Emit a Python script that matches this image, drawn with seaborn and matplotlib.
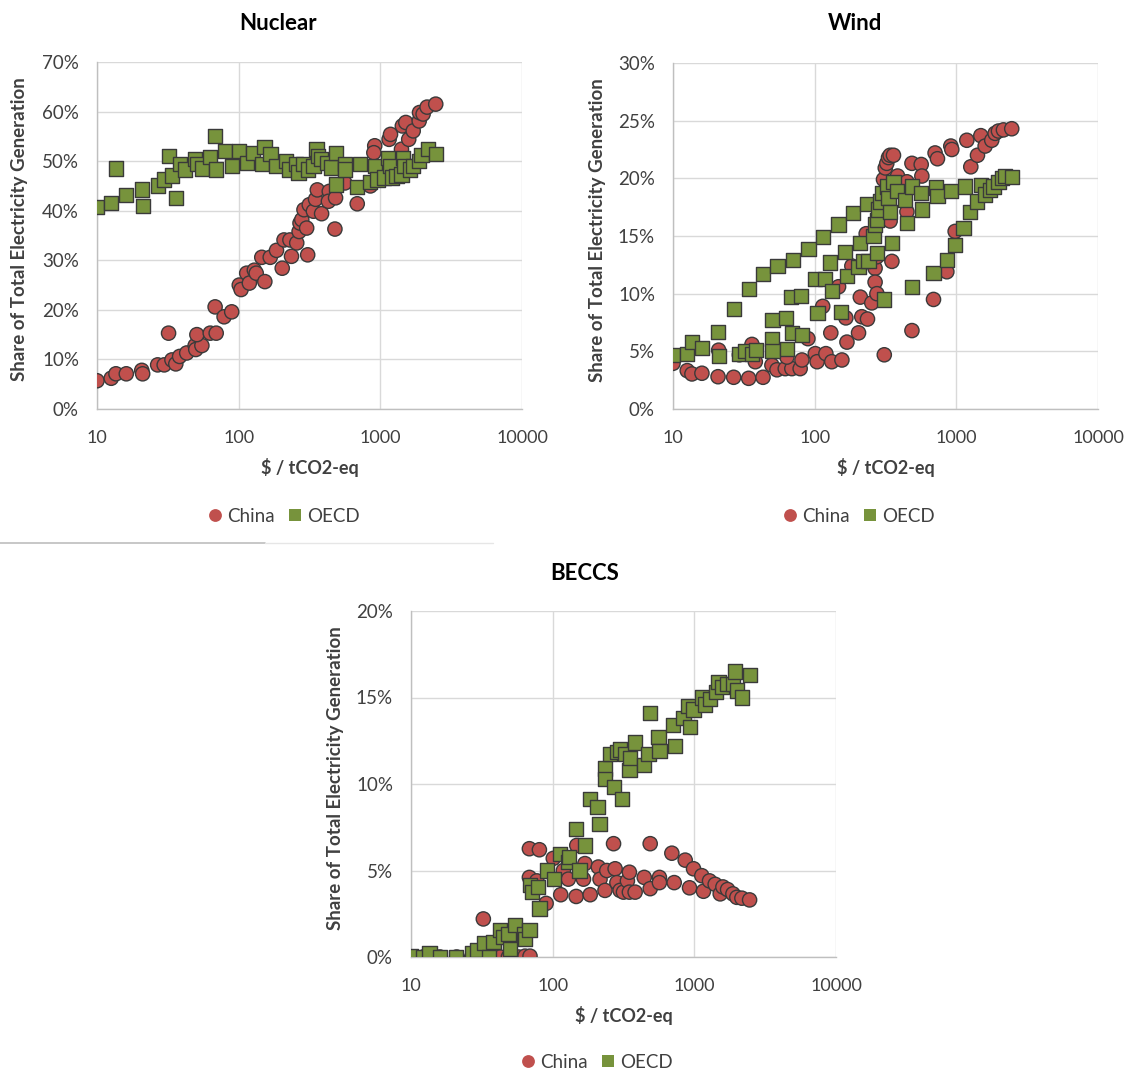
import pandas as pd
import seaborn as sns
import matplotlib.pyplot as plt
from matplotlib.lines import Line2D
from matplotlib.ticker import FixedLocator, FuncFormatter

# ---- data ----
nuclear_china_x = [10, 12.6, 13.6, 16.1, 20.7, 21, 26.8, 29.8, 33.8, 36, 38.3, 43, 49.3, 49.8, 55, 50.7,
                   32, 63, 69.4, 68.2, 78.9, 89.3, 101, 104, 114, 119, 129, 133, 153, 145.6, 167, 185,
                   203, 209, 230, 236, 257, 267, 271, 279, 289, 302, 307, 315, 337, 349, 359, 385, 436,
                   430, 483, 478, 562, 687, 851, 913, 900, 1153, 1180, 1410, 1430, 1513, 1586, 1706,
                   1880, 1890, 2004, 2138, 2461]
nuclear_china_y = [5.7, 6.2, 7.1, 7.1, 7.8, 7.1, 8.9, 8.9, 9.9, 9.1, 10.6, 11.3, 12.8, 12.0, 12.8, 15.0,
                   15.3, 15.3, 15.3, 20.6, 18.6, 19.6, 25.0, 24.1, 27.4, 25.4, 28.0, 27.4, 25.7, 30.6,
                   30.6, 32.0, 28.4, 34.1, 34.1, 30.8, 33.5, 35.8, 37.5, 38.2, 40.2, 36.5, 31.1, 41.2,
                   39.9, 42.3, 44.2, 39.4, 43.9, 41.9, 42.6, 36.3, 45.6, 41.4, 45.0, 53.1, 51.7, 54.4,
                   55.4, 52.4, 57.1, 57.8, 54.4, 56.1, 58.1, 59.8, 59.5, 60.9, 61.5]
nuclear_oecd_x = [10, 12.6, 13.7, 16.1, 20.7, 21, 26.8, 29.8, 32.3, 33.8, 36, 38.3, 41.9, 49.3, 50.7, 55,
                  63, 68.2, 69.4, 80.2, 89.3, 101, 114, 127, 145.6, 152, 168, 185, 216, 228, 254, 264,
                  283, 310, 337, 355, 361, 379, 418, 446, 486, 486, 562, 562, 687, 718, 844, 913, 955,
                  1059, 1136, 1170, 1203, 1300, 1410, 1440, 1470, 1615, 1706, 1880, 1950, 2173, 2461]
nuclear_oecd_y = [40.8, 41.6, 48.5, 43.1, 44.3, 41.0, 45.1, 46.3, 51.0, 47.1, 42.5, 49.4, 48.3, 50.4,
                  49.4, 48.5, 50.8, 55.1, 48.3, 52.1, 49.0, 52.1, 49.7, 51.7, 49.4, 52.9, 51.4, 49.0,
                  50.0, 48.3, 49.4, 47.7, 49.4, 48.3, 49.0, 52.4, 51.0, 50.4, 49.7, 48.7, 51.6, 45.3,
                  49.4, 48.3, 44.8, 49.4, 45.8, 49.0, 46.3, 46.7, 50.7, 49.0, 46.7, 47.0, 47.3, 50.7,
                  49.0, 48.3, 49.0, 50.0, 51.2, 52.5, 51.5]

wind_china_x = [10, 12.6, 13.6, 16, 20.8, 21, 26.8, 29.4, 34.2, 36.1, 38.1, 43.2, 49.9, 54.2, 62, 69, 79,
                63.7, 81.3, 89.6, 101, 104, 114, 120, 130, 132, 147.5, 155.7, 166, 169, 183, 204, 210,
                215, 236, 231, 253, 267, 267, 275, 275, 310, 306, 315, 323, 332, 341, 360, 341, 351,
                385, 448, 448, 486, 486, 565, 571, 690, 708, 736, 857, 914, 929, 981, 1186, 1265, 1410,
                1489, 1597, 1778, 1878, 1983, 2150, 2461]
wind_china_y = [3.96, 3.33, 3.04, 3.1, 2.8, 5.1, 2.75, 4.7, 2.66, 5.6, 4.1, 2.75, 3.8, 3.4, 3.5, 3.5, 3.5,
                4.5, 4.25, 6.1, 4.8, 4.1, 8.9, 4.8, 6.6, 4.1, 10.6, 4.25, 7.9, 5.8, 12.4, 6.6, 9.7, 8.0,
                7.8, 15.2, 9.2, 12.2, 11.0, 10.0, 13.2, 4.7, 19.9, 20.9, 21.3, 21.8, 22.0, 22.0, 16.3,
                12.8, 20.2, 19.7, 17.1, 21.3, 6.8, 21.2, 20.2, 9.5, 22.2, 21.7, 11.9, 22.8, 22.5, 15.4,
                23.3, 21.0, 22.0, 23.7, 22.8, 23.3, 23.9, 24.1, 24.2, 24.3]
wind_oecd_x = [10, 12.6, 13.6, 16, 20.8, 21, 26.8, 29.4, 32.4, 34.2, 36.1, 38.7, 43.2, 49.9, 50.3, 50.3,
               54.7, 63, 63.7, 68.4, 70.2, 69, 80, 81.3, 90.6, 101, 104.6, 114, 119, 129, 132, 147.5,
               154, 164, 169, 186, 204, 210, 219, 236, 240, 260, 267, 275, 275, 282, 290, 298, 310,
               323, 332, 341, 351, 360, 380, 436, 448, 486, 486, 565, 571, 690, 721, 736, 857, 914,
               981, 1122, 1153, 1251, 1393, 1489, 1597, 1729, 1827, 1983, 2093, 2208, 2461]
wind_oecd_y = [4.7, 4.8, 5.8, 5.3, 6.7, 4.6, 8.7, 4.8, 5.0, 10.4, 4.8, 5.1, 11.7, 6.1, 7.7, 5.0, 12.4,
               7.9, 5.2, 9.7, 12.9, 6.6, 9.8, 6.4, 13.9, 11.3, 8.3, 14.9, 11.3, 12.7, 10.2, 16.0, 8.4,
               13.6, 11.5, 17.0, 12.3, 14.4, 12.8, 17.8, 12.8, 15.0, 16.0, 16.4, 13.5, 17.3, 18.0,
               18.7, 9.5, 19.3, 18.3, 17.1, 14.4, 19.7, 18.9, 18.1, 16.1, 19.3, 10.6, 18.7, 17.3, 11.8,
               19.2, 18.5, 12.9, 18.9, 14.2, 15.7, 19.3, 17.1, 18.0, 19.4, 18.6, 19.0, 19.3, 19.7,
               20.0, 20.2, 20.1]

beccs_china_x = [10, 12.2, 13.6, 16, 21, 26.8, 29, 32.4, 34.2, 42.6, 48.7, 52.8, 57.3, 63.8, 69.2, 68.5,
                 80.6, 68.5, 77.3, 89.9, 101, 114, 119, 129, 146.5, 148, 169, 165, 184, 210, 216, 234,
                 241, 269, 276, 284, 299, 316, 337, 348, 348, 382, 443, 488, 488, 567, 567, 694, 721,
                 862, 925, 987, 1129, 1160, 1280, 1403, 1523, 1591, 1717, 1872, 1996, 2166, 2455]
beccs_china_y = [0, 0, 0, 0, 0, 0, 0, 2.2, 0, 0, 0, 0, 0, 0.05, 0.05, 6.26, 6.2, 4.6, 4.4, 3.1, 5.7,
                 3.6, 5.0, 4.5, 3.5, 6.45, 5.4, 4.5, 3.6, 5.2, 4.5, 3.85, 5.0, 6.55, 5.1, 4.3, 3.85,
                 3.75, 4.4, 4.9, 3.75, 3.75, 4.6, 6.55, 3.95, 4.6, 4.3, 6.0, 4.3, 5.6, 4.0, 5.1, 4.7,
                 3.8, 4.4, 4.2, 3.65, 4.05, 3.9, 3.65, 3.45, 3.4, 3.3]
beccs_oecd_x = [10, 12.2, 13.5, 16, 20.8, 26.8, 29.4, 32.8, 35.6, 38.2, 42.6, 44.9, 48.7, 50, 54.3, 62.9,
                63.8, 68.5, 69.2, 71.1, 79.2, 80.6, 90.8, 102.3, 113, 129, 130.5, 154.5, 145.6, 169,
                184, 207, 214, 234, 234, 254.5, 272, 284, 299, 307, 325, 349, 352, 382, 443, 488, 475,
                558, 567, 704, 733, 839, 911, 935, 987, 1129, 1193, 1294, 1427, 1482, 1565, 1698,
                1872, 1945, 1996, 2166, 2483]
beccs_oecd_y = [0.04, 0, 0.2, 0, 0, 0.23, 0.4, 0.8, 0, 0.87, 1.54, 1.16, 1.35, 0.48, 1.83, 1.35, 1.06,
                1.54, 4.14, 3.76, 4.05, 2.8, 5.0, 4.5, 5.97, 5.5, 5.8, 5.0, 7.4, 6.45, 9.15, 8.67, 7.7,
                10.9, 10.3, 11.75, 9.83, 11.85, 12.0, 9.15, 11.75, 10.8, 11.5, 12.4, 11.1, 14.1, 11.75,
                12.7, 11.9, 13.4, 12.2, 13.8, 14.5, 13.3, 14.3, 15.0, 14.6, 14.9, 15.3, 15.9, 15.6,
                15.8, 15.8, 16.5, 15.4, 15.0, 16.3]

series_names = ['China', 'OECD']
palette = {'China': '#C0504D', 'OECD': '#77933C'}
markers = {'China': 'o', 'OECD': 's'}

x_ticks = [10, 100, 1000, 10000]
FONT = 'Lato'
TXT = '#404040'
W, H = 1127, 1072


def make_df(cx, cy, ox, oy):
    china = pd.DataFrame({'x': cx, 'y': cy, 'series': 'China'})
    oecd = pd.DataFrame({'x': ox, 'y': oy, 'series': 'OECD'})
    return pd.concat([china, oecd], ignore_index=True)


def px_rect(left, top, right, bottom):
    return [left / W, 1 - bottom / H, (right - left) / W, (bottom - top) / H]


panels = [
    dict(title='Nuclear', df=make_df(nuclear_china_x, nuclear_china_y, nuclear_oecd_x, nuclear_oecd_y),
         rect=(97, 62, 522, 409), ymax=70, ystep=10, title_xy=(278, 24), ylab_x=20, leg_xy=(283, 516)),
    dict(title='Wind', df=make_df(wind_china_x, wind_china_y, wind_oecd_x, wind_oecd_y),
         rect=(673, 63, 1098, 409), ymax=30, ystep=5, title_xy=(855, 24), ylab_x=597, leg_xy=(858, 516)),
    dict(title='BECCS', df=make_df(beccs_china_x, beccs_china_y, beccs_oecd_x, beccs_oecd_y),
         rect=(411, 611, 836, 957), ymax=20, ystep=5, title_xy=(585, 573), ylab_x=335, leg_xy=(596, 1062)),
]

sns.set_theme(style='white')
plt.rcParams['font.family'] = [FONT, 'DejaVu Sans']

fig = plt.figure(figsize=(W / 100, H / 100), dpi=100)

for p in panels:
    ax = fig.add_axes(px_rect(*p['rect']))
    sns.scatterplot(data=p['df'], x='x', y='y', hue='series', style='series',
                    hue_order=series_names, style_order=series_names,
                    palette=palette, markers=markers, s=105,
                    edgecolor='#3a3a3a', linewidth=1.0, ax=ax, zorder=3)
    ax.set_xscale('log')
    ax.set_xlim(10, 10000)
    ax.set_ylim(0, p['ymax'])
    ax.xaxis.set_major_locator(FixedLocator(x_ticks))
    ax.xaxis.set_minor_locator(FixedLocator([]))
    ax.xaxis.set_major_formatter(FuncFormatter(lambda v, _: f'{v:.0f}'))
    ax.set_yticks(range(0, p['ymax'] + 1, p['ystep']))
    ax.yaxis.set_major_formatter(FuncFormatter(lambda v, _: f'{v:.0f}%'))
    ax.grid(True, color='#D9D9D9', linewidth=1.0)
    ax.set_axisbelow(True)
    for side in ('top', 'right'):
        ax.spines[side].set_visible(False)
    for side in ('left', 'bottom'):
        ax.spines[side].set_color('#BFBFBF')
        ax.spines[side].set_linewidth(1.0)
    ax.tick_params(axis='both', which='major', direction='out', length=5, width=1,
                   color='#BFBFBF', labelcolor=TXT, labelsize=13)
    ax.tick_params(axis='y', labelsize=13.5, pad=8)
    ax.tick_params(axis='x', pad=10)
    ax.set_xlabel('$ / tCO2-eq', fontsize=13, fontweight='bold', color=TXT, labelpad=9)
    ax.set_ylabel('')

    l, t, r, b = p['rect']
    fig.text(p['title_xy'][0] / W, 1 - p['title_xy'][1] / H, p['title'], ha='center', va='center',
             fontsize=16, fontweight='bold', color='black')
    fig.text(p['ylab_x'] / W, 1 - ((t + b) / 2 - 6) / H, 'Share of Total Electricity Generation',
             rotation=90, ha='center', va='center', fontsize=13.5, fontweight='bold', color=TXT)

    sns.move_legend(ax, 'center', bbox_to_anchor=(p['leg_xy'][0] / W, 1 - p['leg_xy'][1] / H),
                    bbox_transform=fig.transFigure, ncol=2, frameon=False, title=None,
                    fontsize=13.5, handlelength=0.9, handletextpad=0.2, columnspacing=0.6,
                    markerscale=0.9)
    leg = ax.get_legend()
    for txt in leg.get_texts():
        txt.set_color(TXT)
    for h in leg.legend_handles:
        h.set_markeredgewidth(0) if hasattr(h, 'set_markeredgewidth') else h.set_linewidth(0)

# thin separator under the Nuclear panel
fig.add_artist(Line2D([0, 265 / W], [1 - 543 / H, 1 - 543 / H], color='#BDBDBD', linewidth=1.2))
fig.add_artist(Line2D([265 / W, 493 / W], [1 - 543 / H, 1 - 543 / H], color='#E6E6E6', linewidth=1.0))

fig.savefig('out.png', dpi=100)
